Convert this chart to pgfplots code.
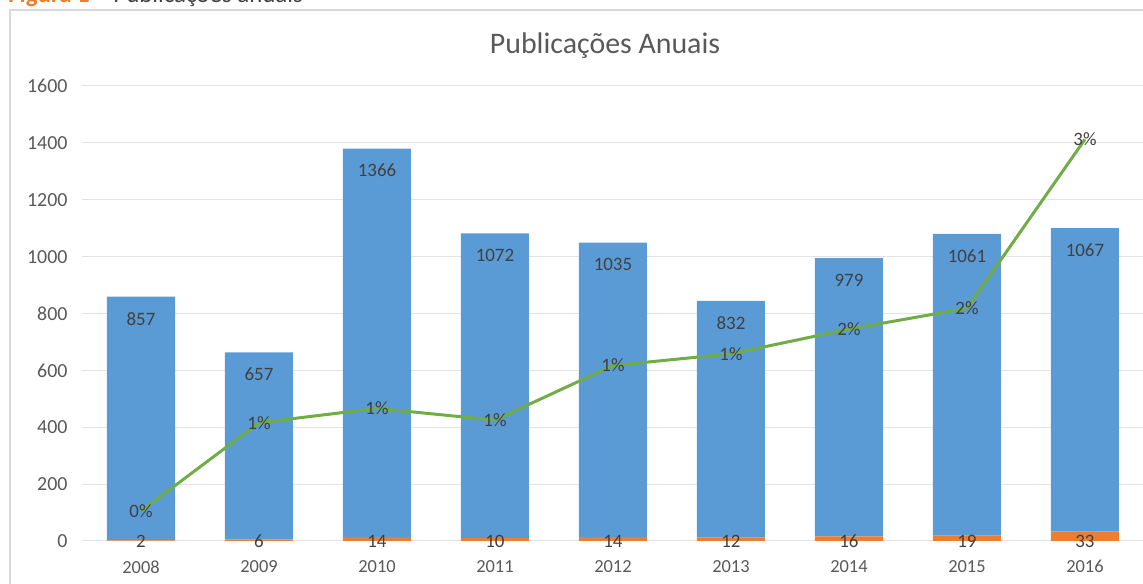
\documentclass[border=0pt]{standalone}
\usepackage{fontspec}
\setmainfont{Carlito}
\usepackage{pgfplots}
\pgfplotsset{compat=1.18}
\definecolor{xblue}{HTML}{5B9BD5}
\definecolor{xorange}{HTML}{ED7D31}
\definecolor{xgreen}{HTML}{70AD47}
\definecolor{xgrid}{HTML}{E3E3E3}
\definecolor{xframe}{HTML}{D9D9D9}
\definecolor{xtick}{HTML}{595959}
\definecolor{xlabel}{HTML}{404040}
\tikzset{lbl/.style={font=\fontsize{19}{22}\selectfont, text=xlabel}}
\pgfplotsset{
  base/.style={
    at={(82bp,43bp)}, anchor=south west,
    scale only axis, width=1062bp, height=455bp,
    xmin=-0.5, xmax=8.5, clip=false,
  },
}
\begin{document}
\begin{tikzpicture}
\useasboundingbox (0,0) rectangle (1143bp,584bp);
\draw[color=xframe, line width=1.5bp] (10bp,-10bp) rectangle (1170bp,574bp);
\node[anchor=base west, inner sep=0pt, font=\fontsize{25}{28}\selectfont] at (8bp,581bp) {\textcolor{xorange}{\textbf{Figura 1}} \textcolor{xlabel}{– Publicações anuais}};
\begin{axis}[
  base, ymin=0, ymax=1600,
  ybar stacked, bar width=68bp,
  xtick={0,1,2,3,4,5,6,7,8},
  xticklabels={2008,2009,2010,2011,2012,2013,2014,2015,2016},
  ytick={0,200,400,600,800,1000,1200,1400,1600},
  ymajorgrids, grid style={xgrid, line width=1bp},
  axis line style={draw=none},
  major tick length=0pt,
  /pgf/number format/1000 sep={},
  /pgf/number format/assume math mode=true,
  xticklabel style={font=\fontsize{18.5}{20}\selectfont, text=xtick, yshift=-16bp},
  yticklabel style={font=\fontsize{20}{22}\selectfont, text=xtick, xshift=-11bp},
  title={Publicações Anuais},
  title style={font=\fontsize{30}{34}\selectfont, text=xtick, at={(axis description cs:0.4925,1)}, anchor=base, yshift=27bp},
]
\addplot+[fill=xorange, draw=none]
  coordinates {(0,2) (1,6) (2,14) (3,10) (4,14) (5,12) (6,16) (7,19) (8,33)};
\addplot+[fill=xblue, draw=none]
  coordinates {(0,857) (1,657) (2,1366) (3,1072) (4,1035) (5,832) (6,979) (7,1061) (8,1067)};
\end{axis}
% data labels of the bars (same scale as the bar axis)
\begin{axis}[base, ymin=0, ymax=1600, hide axis]
\addplot[draw=none, mark=none, nodes near coords, point meta=explicit symbolic,
  every node near coord/.append style={lbl, anchor=center, yshift=-22bp}]
  coordinates {(0,859)[857] (1,663)[657] (2,1380)[1366] (3,1082)[1072] (4,1049)[1035] (5,844)[832] (6,995)[979] (7,1080)[1061] (8,1100)[1067]};
\addplot[draw=none, mark=none, nodes near coords, point meta=explicit symbolic,
  every node near coord/.append style={lbl, anchor=center, yshift=0bp}]
  coordinates {(0,0)[2] (1,0)[6] (2,0)[14] (3,0)[10] (4,0)[14] (5,0)[12] (6,0)[16] (7,0)[19] (8,0)[33]};
\end{axis}
% share line (hidden secondary axis)
\begin{axis}[base, ymin=0, ymax=3.5, hide axis]
\addplot[xgreen, line width=3bp, mark=none, nodes near coords, point meta=explicit symbolic,
  every node near coord/.append style={lbl, anchor=center}]
  coordinates {(0,0.23)[0\%] (1,0.91)[1\%] (2,1.02)[1\%] (3,0.93)[1\%] (4,1.35)[1\%] (5,1.44)[1\%] (6,1.63)[2\%] (7,1.79)[2\%] (8,3.09)[3\%]};
\end{axis}
\end{tikzpicture}
\end{document}
